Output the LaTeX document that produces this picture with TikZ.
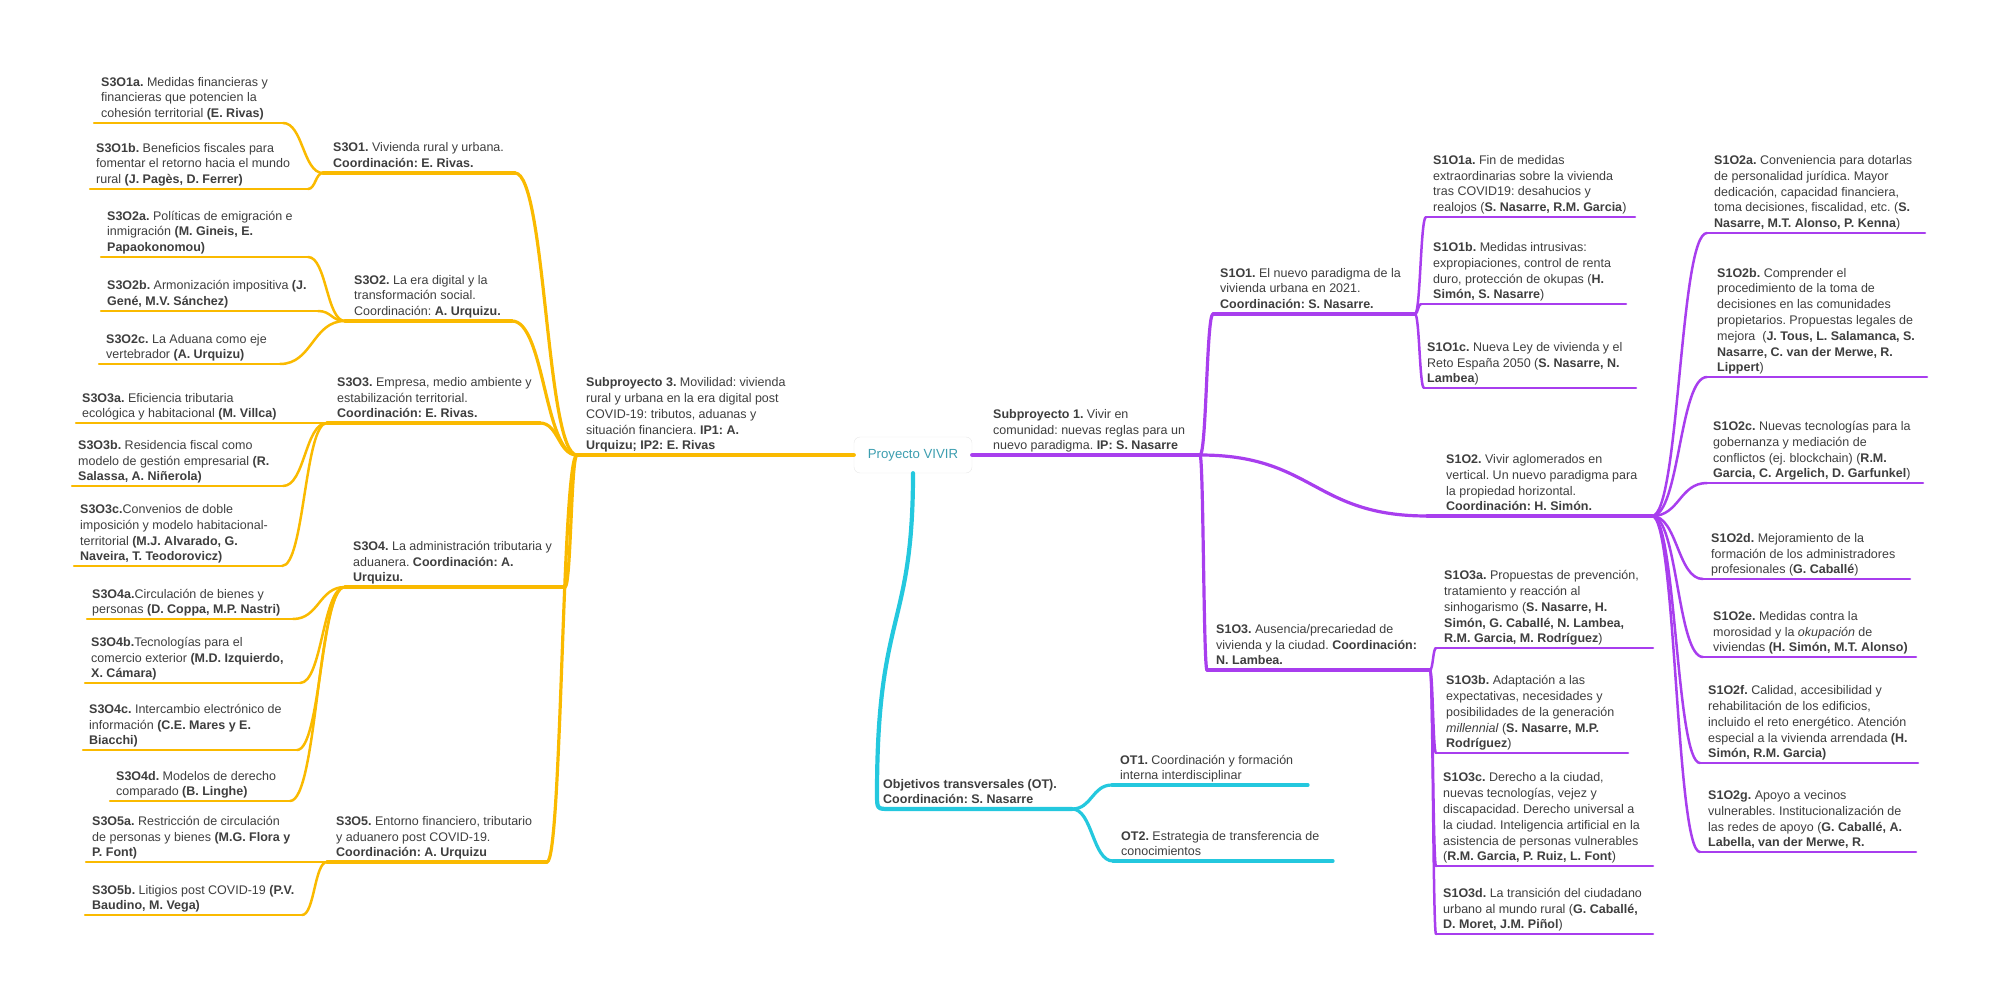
\documentclass[tikz,border=0pt]{standalone}
\usepackage{fontspec}
\setmainfont{Liberation Sans}
\usetikzlibrary{calc}
\definecolor{yel}{RGB}{250,186,0}
\definecolor{pur}{RGB}{168,62,238}
\definecolor{cya}{RGB}{36,200,222}
\definecolor{txt}{RGB}{62,62,62}
\definecolor{tealtx}{RGB}{60,158,176}
\newcommand\ds{\rule[-4.5pt]{0pt}{4.5pt}}
\newcommand\ulin[5]{\coordinate (#1L) at (#2,#4); \coordinate (#1R) at (#3,#4); \draw[#5] (#1L) -- (#1R);}
\frenchspacing
\begin{document}
\begin{tikzpicture}[x=1pt,y=-1pt,
 tx/.style={anchor=south west, inner sep=0pt, align=left, text=txt, font=\fontsize{12.5}{15.8}\selectfont\frenchspacing},
 sc/.style={to path={let \p1=(\tikztostart),\p2=(\tikztotarget) in .. controls (\x1/2+\x2/2,\y1) and (\x1/2+\x2/2,\y2) .. (\tikztotarget)}},
 ln/.style={line cap=round, line join=round},
 yA/.style={ln, draw=yel, line width=4.2pt}, yB/.style={ln, draw=yel, line width=3.2pt}, yC/.style={ln, draw=yel, line width=2.5pt},
 pA/.style={ln, draw=pur, line width=4.2pt}, pB/.style={ln, draw=pur, line width=3.2pt}, pC/.style={ln, draw=pur, line width=2.5pt},
 cA/.style={ln, draw=cya, line width=4.2pt}, cB/.style={ln, draw=cya, line width=3.2pt},
 rootbox/.style={draw=black!9, rounded corners=6pt, fill=white, minimum width=118pt, minimum height=36pt, inner sep=0pt, text=tealtx, font=\fontsize{13.2}{16}\selectfont}]
\useasboundingbox (0,0) rectangle (2000,1008);
\node[rootbox] (root) at (913,455) {Proyecto VIVIR};

% ---------- Subproyecto 3 (left, yellow) ----------
\coordinate (sp3L) at (577,455);
\draw[yA] (root.west) -- (sp3L);
\node[tx] (sp3) at (586,454.5) {\textbf{Subproyecto 3.} Movilidad: vivienda\\rural y urbana en la era digital post\\COVID-19: tributos, aduanas y\\situación financiera. \textbf{IP1: A.}\\\textbf{Urquizu; IP2: E. Rivas}\ds};

\ulin{s31}{323}{515}{173}{yB}
\ulin{s32}{345}{512}{321}{yB}
\ulin{s33}{327}{540}{423}{yB}
\ulin{s34}{345}{565}{587}{yB}
\ulin{s35}{327}{547}{862}{yB}
\foreach \t in {s31,s32,s33,s34,s35} \draw[yB] (sp3L) to[sc] (\t R);

\node[tx] (s31) at (333,172.5) {\textbf{S3O1.} Vivienda rural y urbana.\\\textbf{Coordinación: E. Rivas.}\ds};
\node[tx] (s32) at (354,320.5) {\textbf{S3O2.} La era digital y la\\transformación social.\\Coordinación: \textbf{A. Urquizu.}\ds};
\node[tx] (s33) at (337,422.5) {\textbf{S3O3.} Empresa, medio ambiente y\\estabilización territorial.\\\textbf{Coordinación: E. Rivas.}\ds};
\node[tx] (s34) at (353,586.5) {\textbf{S3O4.} La administración tributaria y\\aduanera. \textbf{Coordinación: A.}\\\textbf{Urquizu.}\ds};
\node[tx] (s35) at (336,861.5) {\textbf{S3O5.} Entorno financiero, tributario\\y aduanero post COVID-19.\\\textbf{Coordinación: A. Urquizu}\ds};

\ulin{s31a}{94}{283}{123}{yC}
\ulin{s31b}{90}{308}{189}{yC}
\ulin{s32a}{101}{308}{257}{yC}
\ulin{s32b}{101}{318}{311}{yC}
\ulin{s32c}{99}{280}{364}{yC}
\ulin{s33a}{76}{327}{423}{yC}
\ulin{s33b}{72}{283}{486}{yC}
\ulin{s33c}{74}{282}{566}{yC}
\ulin{s34a}{87}{293}{619}{yC}
\ulin{s34b}{85}{300}{683}{yC}
\ulin{s34c}{83}{297}{750}{yC}
\ulin{s34d}{110}{290}{801}{yC}
\ulin{s35a}{86}{327}{862}{yC}
\ulin{s35b}{85}{302}{915}{yC}
\foreach \t in {s31a,s31b} \draw[yC] (s31L) to[sc] (\t R);
\foreach \t in {s32a,s32b,s32c} \draw[yC] (s32L) to[sc] (\t R);
\foreach \t in {s33b,s33c} \draw[yC] (s33L) to[sc] (\t R);
\foreach \t in {s34a,s34b,s34c,s34d} \draw[yC] (s34L) to[sc] (\t R);
\foreach \t in {s35b} \draw[yC] (s35L) to[sc] (\t R);

\node[tx] (s31a) at (101,122.5) {\textbf{S3O1a.} Medidas financieras y\\financieras que potencien la\\cohesión territorial \textbf{(E. Rivas)}\ds};
\node[tx] (s31b) at (96,188.5) {\textbf{S3O1b.} Beneficios fiscales para\\fomentar el retorno hacia el mundo\\rural \textbf{(J. Pagès, D. Ferrer)}\ds};
\node[tx] (s32a) at (107,256.5) {\textbf{S3O2a.} Políticas de emigración e\\inmigración \textbf{(M. Gineis, E.}\\\textbf{Papaokonomou)}\ds};
\node[tx] (s32b) at (107,310.5) {\textbf{S3O2b.} Armonización impositiva \textbf{(J.}\\\textbf{Gené, M.V. Sánchez)}\ds};
\node[tx] (s32c) at (106,363.5) {\textbf{S3O2c.} La Aduana como eje\\vertebrador \textbf{(A. Urquizu)}\ds};
\node[tx] (s33a) at (82,422.5) {\textbf{S3O3a.} Eficiencia tributaria\\ecológica y habitacional \textbf{(M. Villca)}\ds};
\node[tx] (s33b) at (78,485.5) {\textbf{S3O3b.} Residencia fiscal como\\modelo de gestión empresarial \textbf{(R.}\\\textbf{Salassa, A. Niñerola)}\ds};
\node[tx] (s33c) at (80,565.5) {\textbf{S3O3c.}Convenios de doble\\imposición y modelo habitacional-\\territorial \textbf{(M.J. Alvarado, G.}\\\textbf{Naveira, T. Teodorovicz)}\ds};
\node[tx] (s34a) at (92,618.5) {\textbf{S3O4a.}Circulación de bienes y\\personas \textbf{(D. Coppa, M.P. Nastri)}\ds};
\node[tx] (s34b) at (91,682.5) {\textbf{S3O4b.}Tecnologías para el\\comercio exterior \textbf{(M.D. Izquierdo,}\\\textbf{X. Cámara)}\ds};
\node[tx] (s34c) at (89,749.5) {\textbf{S3O4c.} Intercambio electrónico de\\información \textbf{(C.E. Mares y E.}\\\textbf{Biacchi)}\ds};
\node[tx] (s34d) at (116,800.5) {\textbf{S3O4d.} Modelos de derecho\\comparado \textbf{(B. Linghe)}\ds};
\node[tx] (s35a) at (92,861.5) {\textbf{S3O5a.} Restricción de circulación\\de personas y bienes \textbf{(M.G. Flora y}\\\textbf{P. Font)}\ds};
\node[tx] (s35b) at (92,914.5) {\textbf{S3O5b.} Litigios post COVID-19 \textbf{(P.V.}\\\textbf{Baudino, M. Vega)}\ds};

% ---------- Subproyecto 1 (right, purple) ----------
\coordinate (sp1R) at (1200,455);
\draw[pA] (root.east) -- (sp1R);
\node[tx] (sp1) at (993,454.5) {\textbf{Subproyecto 1.} Vivir en\\comunidad: nuevas reglas para un\\nuevo paradigma. \textbf{IP: S. Nasarre}\ds};

\ulin{s11}{1213}{1415}{314}{pB}
\ulin{s12}{1427}{1652}{516}{pB}
\ulin{s13}{1207}{1430}{670}{pB}
\foreach \t in {s11,s12,s13} \draw[pB] (sp1R) to[sc] (\t L);

\node[tx] (s11) at (1220,313.5) {\textbf{S1O1.} El nuevo paradigma de la\\vivienda urbana en 2021.\\\textbf{Coordinación: S. Nasarre.}\ds};
\node[tx] (s12) at (1446,515.5) {\textbf{S1O2.} Vivir aglomerados en\\vertical. Un nuevo paradigma para\\la propiedad horizontal.\\\textbf{Coordinación: H. Simón.}\ds};
\node[tx] (s13) at (1216,669.5) {\textbf{S1O3.} Ausencia/precariedad de\\vivienda y la ciudad. \textbf{Coordinación:}\\\textbf{N. Lambea.}\ds};

\ulin{s11a}{1426}{1635}{217}{pC}
\ulin{s11b}{1421}{1626}{304}{pC}
\ulin{s11c}{1424}{1636}{388}{pC}
\ulin{s12a}{1707}{1925}{233}{pC}
\ulin{s12b}{1707}{1927}{377}{pC}
\ulin{s12c}{1707}{1923}{483}{pC}
\ulin{s12d}{1703}{1910}{579}{pC}
\ulin{s12e}{1703}{1916}{657}{pC}
\ulin{s12f}{1700}{1918}{763}{pC}
\ulin{s12g}{1700}{1916}{852}{pC}
\ulin{s13a}{1436}{1653}{648}{pC}
\ulin{s13b}{1436}{1628}{753}{pC}
\ulin{s13c}{1436}{1653}{866}{pC}
\ulin{s13d}{1436}{1653}{934}{pC}
\foreach \t in {s11a,s11b,s11c} \draw[pC] (s11R) to[sc] (\t L);
\foreach \t in {s12a,s12b,s12c,s12d,s12e,s12f,s12g} \draw[pC] (s12R) to[sc] (\t L);
\foreach \t in {s13a,s13b,s13c,s13d} \draw[pC] (s13R) to[sc] (\t L);

\node[tx] (s11a) at (1433,216.5) {\textbf{S1O1a.} Fin de medidas\\extraordinarias sobre la vivienda\\tras COVID19: desahucios y\\realojos (\textbf{S. Nasarre, R.M. Garcia})\ds};
\node[tx] (s11b) at (1433,303.5) {\textbf{S1O1b.} Medidas intrusivas:\\expropiaciones, control de renta\\duro, protección de okupas (\textbf{H.}\\\textbf{Simón, S. Nasarre})\ds};
\node[tx] (s11c) at (1427,387.5) {\textbf{S1O1c.} Nueva Ley de vivienda y el\\Reto España 2050 (\textbf{S. Nasarre, N.}\\\textbf{Lambea})\ds};
\node[tx] (s12a) at (1714,232.5) {\textbf{S1O2a.} Conveniencia para dotarlas\\de personalidad jurídica. Mayor\\dedicación, capacidad financiera,\\toma decisiones, fiscalidad, etc. (\textbf{S.}\\\textbf{Nasarre, M.T. Alonso, P. Kenna})\ds};
\node[tx] (s12b) at (1717,376.5) {\textbf{S1O2b.} Comprender el\\procedimiento de la toma de\\decisiones en las comunidades\\propietarios. Propuestas legales de\\mejora~ (\textbf{J. Tous, L. Salamanca, S.}\\\textbf{Nasarre, C. van der Merwe, R.}\\\textbf{Lippert})\ds};
\node[tx] (s12c) at (1713,482.5) {\textbf{S1O2c.} Nuevas tecnologías para la\\gobernanza y mediación de\\conflictos (ej. blockchain) (\textbf{R.M.}\\\textbf{Garcia, C. Argelich, D. Garfunkel})\ds};
\node[tx] (s12d) at (1711,578.5) {\textbf{S1O2d.} Mejoramiento de la\\formación de los administradores\\profesionales (\textbf{G. Caballé})\ds};
\node[tx] (s12e) at (1713,656.5) {\textbf{S1O2e.} Medidas contra la\\morosidad y la \textit{okupación} de\\viviendas \textbf{(H. Simón, M.T. Alonso)}\ds};
\node[tx] (s12f) at (1708,762.5) {\textbf{S1O2f.} Calidad, accesibilidad y\\rehabilitación de los edificios,\\incluido el reto energético. Atención\\especial a la vivienda arrendada \textbf{(H.}\\\textbf{Simón, R.M. Garcia)}\ds};
\node[tx] (s12g) at (1708,851.5) {\textbf{S1O2g.} Apoyo a vecinos\\vulnerables. Institucionalización de\\las redes de apoyo (\textbf{G. Caballé, A.}\\\textbf{Labella, van der Merwe, R.}\ds};
\node[tx] (s13a) at (1444,647.5) {\textbf{S1O3a.} Propuestas de prevención,\\tratamiento y reacción al\\sinhogarismo (\textbf{S. Nasarre, H.}\\\textbf{Simón, G. Caballé, N. Lambea,}\\\textbf{R.M. Garcia, M. Rodríguez})\ds};
\node[tx] (s13b) at (1446,752.5) {\textbf{S1O3b.} Adaptación a las\\expectativas, necesidades y\\posibilidades de la generación\\\textit{millennial} (\textbf{S. Nasarre, M.P.}\\\textbf{Rodríguez})\ds};
\node[tx] (s13c) at (1443,865.5) {\textbf{S1O3c.} Derecho a la ciudad,\\nuevas tecnologías, vejez y\\discapacidad. Derecho universal a\\la ciudad. Inteligencia artificial en la\\asistencia de personas vulnerables\\(\textbf{R.M. Garcia, P. Ruiz, L. Font})\ds};
\node[tx] (s13d) at (1443,933.5) {\textbf{S1O3d.} La transición del ciudadano\\urbano al mundo rural (\textbf{G. Caballé,}\\\textbf{D. Moret, J.M. Piñol})\ds};

% ---------- Objetivos transversales (cyan) ----------
\coordinate (otL) at (877,809);
\coordinate (otR) at (1072,809);
\coordinate (otC) at (877,794);
\draw[cA] (root.south) .. controls (913,630) and (877,610) .. (otC) .. controls (877,809) .. (890,809) -- (otR);
\node[tx] (ot) at (883,808.5) {\textbf{Objetivos transversales (OT).}\\\textbf{Coordinación: S. Nasarre}\ds};
\ulin{ot1}{1112}{1308}{785}{cB}
\ulin{ot2}{1113}{1333}{861}{cB}
\foreach \t in {ot1,ot2} \draw[cB] (otR) to[sc] (\t L);
\node[tx] (ot1) at (1120,784.5) {\textbf{OT1.} Coordinación y formación\\interna interdisciplinar\ds};
\node[tx] (ot2) at (1121,860.5) {\textbf{OT2.} Estrategia de transferencia de\\conocimientos\ds};
\end{tikzpicture}
\end{document}
